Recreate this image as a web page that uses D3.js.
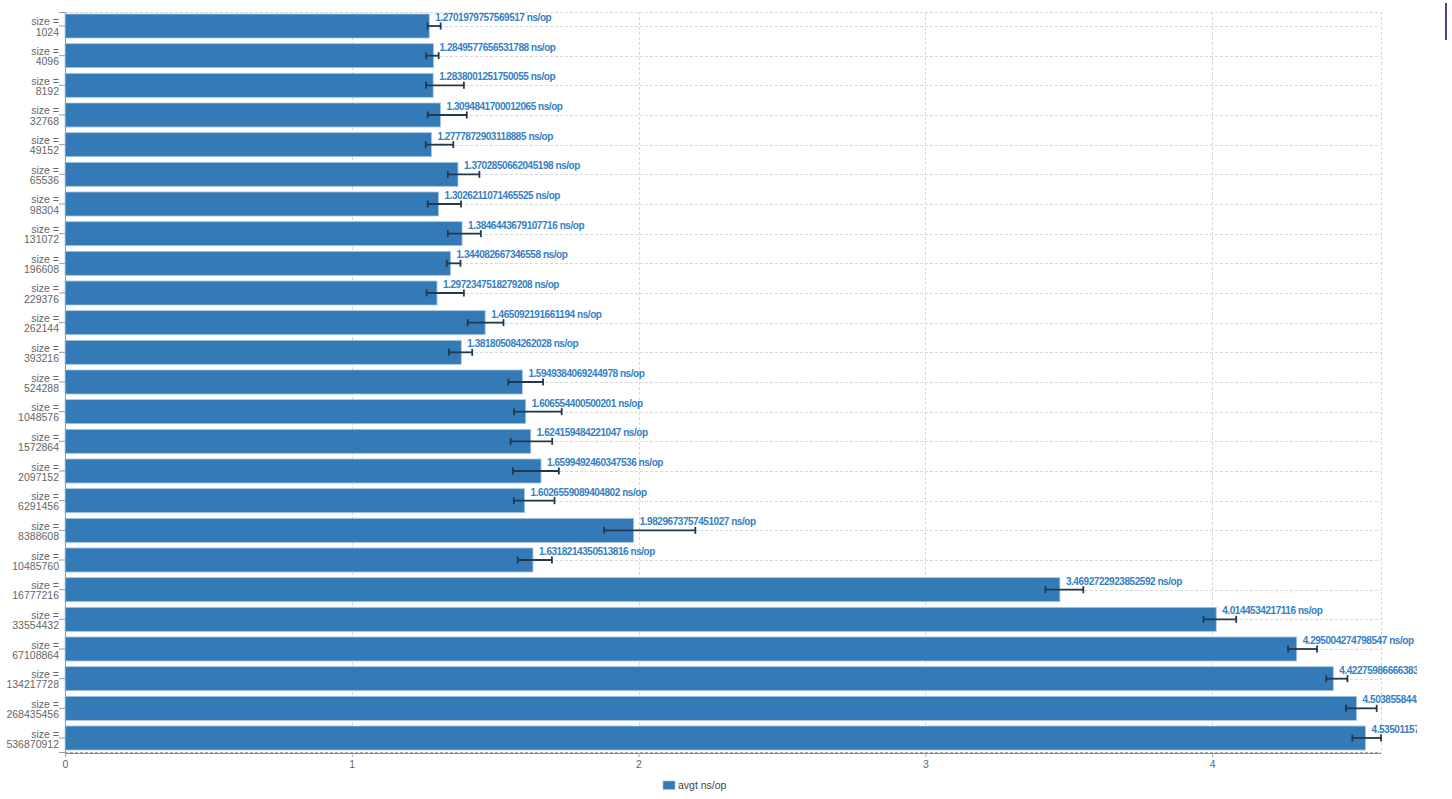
<!DOCTYPE html>
<html>
<head>
<meta charset="utf-8">
<script src="https://cdn.jsdelivr.net/npm/d3@7"></script>
<style>
  html, body { margin: 0; padding: 0; background: #fff; }
  svg { position: absolute; left: 0; top: 0; overflow: hidden; }
  #mark { position: absolute; left: 1445px; top: 3px; width: 1.5px; height: 37px; background: #4b3d8f; }
</style>
</head>
<body>
<div id="mark"></div>
<script>
// ---- data ----
const sizes = [1024, 4096, 8192, 32768, 49152, 65536, 98304, 131072, 196608, 229376,
  262144, 393216, 524288, 1048576, 1572864, 2097152, 6291456, 8388608, 10485760,
  16777216, 33554432, 67108864, 134217728, 268435456, 536870912];
const avgt = [1.2701979757569517, 1.2849577656531788, 1.2838001251750055, 1.3094841700012065,
  1.2777872903118885, 1.3702850662045198, 1.3026211071465525, 1.3846443679107716,
  1.344082667346558, 1.2972347518279208, 1.465092191661194, 1.381805084262028,
  1.5949384069244978, 1.606554400500201, 1.624159484221047, 1.6599492460347536,
  1.6026559089404802, 1.9829673757451027, 1.6318214350513816, 3.4692722923852592,
  4.0144534217116, 4.295004274798547, 4.422759866663831, 4.503855844201762, 4.535011570123456];
const errLow = [1.264, 1.259, 1.259, 1.265, 1.258, 1.335, 1.265, 1.335, 1.331, 1.261,
  1.404, 1.339, 1.546, 1.566, 1.554, 1.562, 1.565, 1.880, 1.579,
  3.419, 3.970, 4.265, 4.398, 4.467, 4.489];
const errHigh = [1.310, 1.303, 1.391, 1.401, 1.354, 1.445, 1.381, 1.450, 1.379, 1.391,
  1.529, 1.420, 1.667, 1.732, 1.699, 1.722, 1.707, 2.198, 1.698,
  3.551, 4.084, 4.366, 4.472, 4.574, 4.589];
const xTicks = [0, 1, 2, 3, 4];
const seriesName = "avgt ns/op";
const unit = " ns/op";

// ---- layout ----
const W = 1417, H = 799;
const mLeft = 65, mRight = 1381, mTop = 12, mBottom = 752;
const barColor = "#337ab7";

const svg = d3.select("body").append("svg").attr("width", W).attr("height", H);

const x = d3.scaleLinear().domain([0, d3.max(errHigh)]).range([mLeft, mRight]);
const y = d3.scaleBand().domain(sizes.map(String)).range([mTop, mBottom])
  .paddingInner(0.191).paddingOuter(0.0674);
const cy = s => y(String(s)) + y.bandwidth() / 2;

const grid = svg.append("g").attr("fill", "none").attr("stroke", "#d9d9d9")
  .attr("stroke-width", 1).attr("stroke-dasharray", "3,2");
// horizontal grid at band centers
grid.selectAll("line.h").data(sizes).join("line").attr("class", "h")
  .attr("x1", mLeft).attr("x2", mRight)
  .attr("y1", d => Math.round(cy(d)) + 0.5).attr("y2", d => Math.round(cy(d)) + 0.5);
// vertical grid
grid.selectAll("line.v").data(xTicks.filter(t => t > 0)).join("line").attr("class", "v")
  .attr("x1", d => Math.round(x(d)) + 0.5).attr("x2", d => Math.round(x(d)) + 0.5)
  .attr("y1", mTop).attr("y2", mBottom);
// border
grid.append("line").attr("x1", mLeft).attr("x2", mRight).attr("y1", mTop + 0.5).attr("y2", mTop + 0.5);
grid.append("line").attr("x1", mRight + 0.5).attr("x2", mRight + 0.5).attr("y1", mTop).attr("y2", mBottom);
grid.append("line").attr("x1", mLeft).attr("x2", mRight).attr("y1", mBottom + 0.5).attr("y2", mBottom + 0.5)
  .attr("stroke", "#aaa");

// bars
const rows = sizes.map((s, i) => ({ s, v: avgt[i], lo: errLow[i], hi: errHigh[i] }));
svg.append("g").selectAll("rect").data(rows).join("rect")
  .attr("x", x(0))
  .attr("y", d => y(String(d.s)))
  .attr("width", d => x(d.v) - x(0))
  .attr("height", y.bandwidth())
  .attr("fill", barColor)
  .attr("stroke", "#a9c6e4").attr("stroke-width", 0.8);

// error bars
const eb = svg.append("g").attr("stroke", "#22384f").attr("stroke-width", 1.8);
eb.selectAll("line.e").data(rows).join("line").attr("class", "e")
  .attr("x1", d => x(d.lo)).attr("x2", d => x(d.hi))
  .attr("y1", d => cy(d.s)).attr("y2", d => cy(d.s));
eb.selectAll("line.c1").data(rows).join("line").attr("class", "c1")
  .attr("x1", d => x(d.lo)).attr("x2", d => x(d.lo))
  .attr("y1", d => cy(d.s) - 3.5).attr("y2", d => cy(d.s) + 3.5);
eb.selectAll("line.c2").data(rows).join("line").attr("class", "c2")
  .attr("x1", d => x(d.hi)).attr("x2", d => x(d.hi))
  .attr("y1", d => cy(d.s) - 3.5).attr("y2", d => cy(d.s) + 3.5);

// value labels
svg.append("g").selectAll("text").data(rows).join("text")
  .attr("x", d => x(d.v) + 6)
  .attr("y", d => y(String(d.s)) + 7)
  .attr("fill", "#3580c4")
  .attr("font-family", "'Liberation Sans', Arial, sans-serif")
  .attr("font-size", "10px").attr("font-weight", "bold")
  .attr("letter-spacing", "-0.45px")
  .text(d => String(d.v) + unit);

// y axis
const yAxis = svg.append("g").attr("transform", `translate(${mLeft},0)`)
  .call(d3.axisLeft(y).tickSize(6).tickPadding(0).tickFormat(""));
yAxis.select(".domain").attr("stroke", "#999");
yAxis.selectAll(".tick line").attr("stroke", "#999");
yAxis.selectAll(".tick").each(function(d) {
  const t = d3.select(this).append("text")
    .attr("x", -6).attr("text-anchor", "end")
    .attr("fill", "#666")
    .attr("font-family", "'Liberation Sans', Arial, sans-serif")
    .attr("font-size", "10.5px");
  t.append("tspan").attr("x", -6).attr("y", -0.5).text("size =");
  t.append("tspan").attr("x", -6).attr("y", 9.8).text(d);
});

// x axis
const xAxis = svg.append("g").attr("transform", `translate(0,${mBottom + 1})`)
  .call(d3.axisBottom(x).tickValues(xTicks).tickSize(4).tickPadding(4).tickFormat(d3.format("d")));
xAxis.select(".domain").attr("stroke", "#888").attr("d", `M${mLeft},0.5H${mRight}`);
xAxis.selectAll(".tick line").attr("stroke", "#aaa");
xAxis.selectAll(".tick text").attr("fill", "#666")
  .attr("font-family", "'Liberation Sans', Arial, sans-serif").attr("font-size", "10.5px");

// legend
const lg = svg.append("g").attr("transform", "translate(663,781)");
lg.append("rect").attr("width", 12).attr("height", 8.5).attr("fill", barColor)
  .attr("stroke", "#a9c6e4").attr("stroke-width", 0.6);
lg.append("text").attr("x", 15).attr("y", 8).attr("fill", "#444")
  .attr("font-family", "'Liberation Sans', Arial, sans-serif").attr("font-size", "10.5px")
  .text(seriesName);
</script>
</body>
</html>
